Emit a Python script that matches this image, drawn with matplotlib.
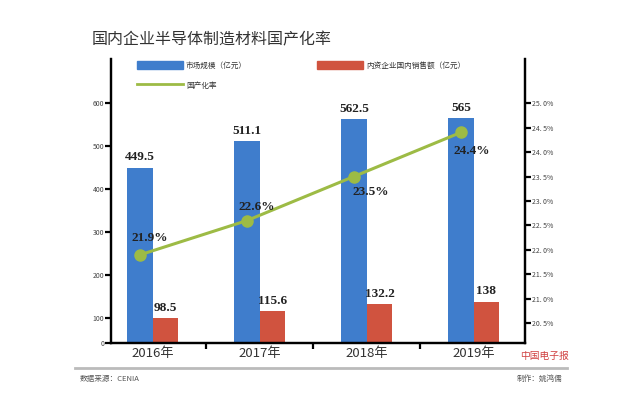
import numpy as np
import matplotlib
matplotlib.use('Agg')
import matplotlib.pyplot as plt
from matplotlib.lines import Line2D
from matplotlib.patches import Patch

plt.rcParams['font.family'] = ['Noto Sans CJK SC', 'DejaVu Sans']

# Datos
years = ['2016年', '2017年', '2018年', '2019年']
market = [449.5, 511.1, 562.5, 565]        # 市场规模（亿元）
domestic = [98.5, 115.6, 132.2, 138]       # 内资企业国内销售额（亿元）
rate = [21.9, 22.6, 23.5, 24.4]            # 国产化率 (%)
left_ticks = [0, 100, 200, 300, 400, 500, 600]
right_ticks = [20.5, 21.0, 21.5, 22.0, 22.5, 23.0, 23.5, 24.0, 24.5, 25.0]

BLUE = '#3f7dcc'
RED = '#d0533f'
GREEN = '#9dbb45'
TXT = '#333333'


# escala por tramos: el tramo 0-100 está comprimido en el original
def fwd(v):
    v = np.asarray(v, dtype=float)
    return np.where(v <= 100, v * 0.25, 25 + (v - 100) * 0.43)


def inv(u):
    u = np.asarray(u, dtype=float)
    return np.where(u <= 25, u / 0.25, 100 + (u - 25) / 0.43)


fig = plt.figure(figsize=(6.4, 3.99), dpi=100)
ax = fig.add_axes([111 / 640, 1 - 343 / 399, (525 - 111) / 640, (343 - 59) / 399])
ax.set_yscale('function', functions=(fwd, inv))
ax.set_ylim(0, 702)

x = np.arange(len(years))
w = 0.24
ax.bar(x - w / 2, market, width=w, color=BLUE)
ax.bar(x + w / 2, domestic, width=w, color=RED)
ax.set_xlim(-0.39, 3.48)

serif = dict(family='Liberation Serif', fontweight='bold', fontsize=9.5, color='#222222')
for xi, v in zip(x, market):
    ax.annotate(f'{v:g}', (xi - w / 2, v), xytext=(0, 3), textcoords='offset points',
                ha='center', va='bottom', **serif)
for xi, v in zip(x, domestic):
    ax.annotate(f'{v:g}', (xi + w / 2, v), xytext=(0, 3), textcoords='offset points',
                ha='center', va='bottom', **serif)

# eje derecho: tasa de nacionalización
ax2 = ax.twinx()
ax2.set_ylim(20.1, 25.9)
ax2.plot(x - w / 2, rate, color=GREEN, lw=2.2, marker='o', ms=8, zorder=3)
offsets = [(7, 12), (7, 10), (12, -11), (8, -13)]
for xi, v, off in zip(x, rate, offsets):
    ax2.annotate(f'{v}%', (xi - w / 2, v), xytext=off, textcoords='offset points',
                 ha='center', va='center', **serif)

# ejes y ticks
for a in (ax, ax2):
    for s in a.spines.values():
        s.set_linewidth(1.6)
    a.spines['top'].set_visible(False)

ax.set_yticks(left_ticks)
ax.set_yticklabels([str(t) for t in left_ticks], fontsize=5, color='#444444')
ax.tick_params(axis='y', direction='out', length=4, width=1.6, pad=1)

ax2.set_yticks(right_ticks)
ax2.set_yticklabels([f'{t:.1f}%'.replace('.', '. ') for t in right_ticks],
                    fontsize=5, color='#444444')
ax2.tick_params(axis='y', direction='out', length=4, width=1.6, pad=1)

ax.set_xticks([0.5, 1.5, 2.5])
ax.set_xticklabels([])
ax.tick_params(axis='x', which='major', direction='out', length=4, width=1.6)
ax.set_xticks(x, minor=True)
ax.set_xticklabels(years, minor=True, fontsize=9.5, color=TXT)
ax.tick_params(axis='x', which='minor', length=0, pad=3)

# leyenda
handles = [Patch(color=BLUE), Line2D([], [], color=GREEN, lw=2), Patch(color=RED)]
labels = ['市场规模（亿元）', '国产化率', '内资企业国内销售额（亿元）']
fig.legend(handles, labels, loc='upper left', bbox_to_anchor=(137 / 640, 1 - 61 / 399),
           ncol=2, frameon=False, fontsize=5.5, handlelength=6, handleheight=1.25,
           handletextpad=0.4, columnspacing=9.2, labelspacing=1.5,
           borderpad=0, borderaxespad=0, labelcolor='#333333')

# título y pie
fig.text(92 / 640, 1 - 40 / 399, '国内企业半导体制造材料国产化率', fontsize=11.5,
         color=TXT, ha='left', va='center', fontweight='medium')
fig.add_artist(Line2D([75 / 640, 567 / 640], [1 - 368 / 399] * 2,
                      color='#bbbbbb', lw=2))
fig.text(80 / 640, 1 - 379 / 399, '数据来源：CENIA', fontsize=5.5, color='#555555',
         ha='left', va='center')
fig.text(562 / 640, 1 - 379 / 399, '制作：姚鸿儒', fontsize=5.5, color='#555555',
         ha='right', va='center')
fig.text(544 / 640, 1 - 356 / 399, '中国电子报', fontsize=7, color='#d04040',
         ha='center', va='center', style='italic')

fig.savefig('out.png', dpi=100)
